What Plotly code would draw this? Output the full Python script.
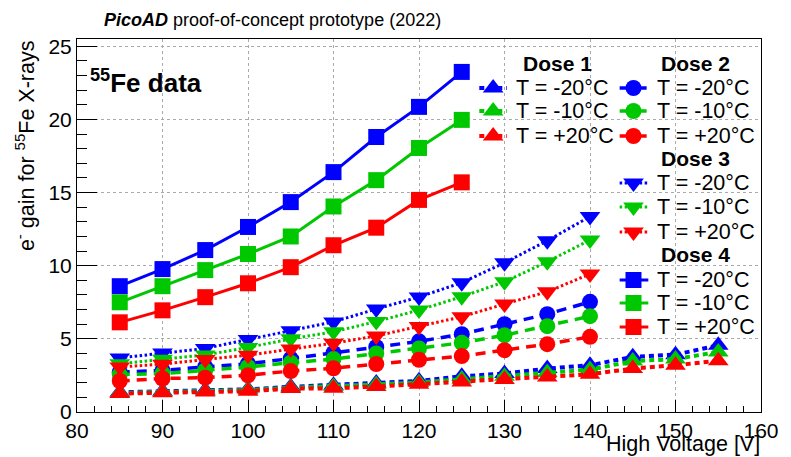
import plotly.graph_objects as go

# ---------------- data ----------------
hv_dose1 = [85, 90, 95, 100, 105, 110, 115, 120, 125, 130, 135, 140, 145, 150, 155]
hv_dose23 = [85, 90, 95, 100, 105, 110, 115, 120, 125, 130, 135, 140]
hv_dose4 = [85, 90, 95, 100, 105, 110, 115, 120, 125]

dose1_m20 = [1.35, 1.42, 1.48, 1.55, 1.72, 1.83, 1.99, 2.13, 2.44, 2.63, 2.97, 3.2, 3.77, 3.92, 4.56]
dose1_m10 = [1.3, 1.37, 1.42, 1.5, 1.66, 1.75, 1.88, 2.02, 2.25, 2.45, 2.7, 2.9, 3.48, 3.62, 4.11]
dose1_p20 = [1.26, 1.31, 1.36, 1.42, 1.6, 1.62, 1.74, 1.9, 2.05, 2.22, 2.4, 2.58, 2.97, 3.2, 3.5]

dose2_m20 = [2.72, 2.85, 3.08, 3.3, 3.65, 4.04, 4.45, 4.83, 5.32, 6.0, 6.69, 7.53]
dose2_m10 = [2.56, 2.63, 2.85, 3.08, 3.37, 3.62, 4.0, 4.34, 4.73, 5.25, 5.87, 6.55]
dose2_p20 = [2.12, 2.29, 2.35, 2.51, 2.8, 2.99, 3.28, 3.57, 3.82, 4.23, 4.64, 5.14]

dose3_m20 = [3.7, 4.04, 4.34, 4.96, 5.55, 6.16, 7.04, 7.86, 8.84, 10.2, 11.71, 13.36]
dose3_m10 = [3.3, 3.6, 3.9, 4.41, 5.0, 5.48, 6.18, 6.97, 7.88, 8.9, 10.27, 11.76]
dose3_p20 = [3.08, 3.27, 3.59, 3.88, 4.3, 4.7, 5.2, 5.85, 6.51, 7.38, 8.22, 9.43]

dose4_m20 = [8.6, 9.77, 11.07, 12.65, 14.35, 16.4, 18.8, 20.86, 23.25]
dose4_m10 = [7.5, 8.6, 9.7, 10.8, 12.0, 14.05, 15.85, 18.05, 19.97]
dose4_p20 = [6.13, 6.95, 7.85, 8.8, 9.9, 11.4, 12.6, 14.5, 15.7]

temp_labels = ["T = -20°C", "T = -10°C", "T = +20°C"]
dose_labels = ["Dose 1", "Dose 2", "Dose 3", "Dose 4"]

# ---------------- styles ----------------
FONT = "Liberation Sans"
colors = ["#0000ff", "#00c800", "#ff0000"]
W, H = 791, 457            # window size
OFF = 8                    # default page body margin
L, R, T, B = 77, 22, 39, 45  # plot frame margins within the window
PW, PH = W - L - R, H - T - B

dose_styles = {
    "Dose 1": dict(symbol="triangle-up", size=18, dash="5px,4px", width=4),
    "Dose 2": dict(symbol="circle", size=16, dash="10px,7px", width=3.5),
    "Dose 3": dict(symbol="triangle-down", size=18, dash="2.5px,2.5px", width=3),
    "Dose 4": dict(symbol="square", size=16, dash="solid", width=3),
}

series = [
    ("Dose 1", hv_dose1, [dose1_m20, dose1_m10, dose1_p20]),
    ("Dose 2", hv_dose23, [dose2_m20, dose2_m10, dose2_p20]),
    ("Dose 3", hv_dose23, [dose3_m20, dose3_m10, dose3_p20]),
    ("Dose 4", hv_dose4, [dose4_m20, dose4_m10, dose4_p20]),
]

fig = go.Figure()

for dose, xs, ylist in series:
    st = dose_styles[dose]
    for col, ys in zip(colors, ylist):
        fig.add_trace(go.Scatter(
            x=xs, y=ys, mode="lines+markers", showlegend=False,
            line=dict(color=col, width=st["width"], dash=st["dash"]),
            marker=dict(symbol=st["symbol"], size=st["size"], color=col,
                        line=dict(width=0)),
        ))

# ---------------- custom legend (pixel coordinates on overlay axes) ----------------
legend_cols = {
    "Dose 1": dict(x0=484, x1=512, xm=498, xt=519, yh=63, rows=[88, 111, 136], xh=563),
    "Dose 2": dict(x0=626, x1=655, xm=640, xt=662, yh=63, rows=[88, 111, 136], xh=703),
    "Dose 3": dict(x0=626, x1=655, xm=640, xt=662, yh=158, rows=[183, 207, 232], xh=703),
    "Dose 4": dict(x0=626, x1=655, xm=640, xt=662, yh=255, rows=[280, 303, 327], xh=703),
}

annotations = []

def pxx(p):
    return (p - L) / PW

def pxy(p):
    return (H - B - p) / PH

for dose in dose_labels:
    lc = legend_cols[dose]
    st = dose_styles[dose]
    annotations.append(dict(
        text="<b>" + dose + "</b>", x=pxx(lc["xh"]), y=pxy(lc["yh"]),
        xref="paper", yref="paper", xanchor="center", yanchor="middle",
        showarrow=False, font=dict(family=FONT, size=21, color="black")))
    for col, row, lab in zip(colors, lc["rows"], temp_labels):
        fig.add_trace(go.Scatter(
            x=[lc["x0"], lc["x1"]], y=[row, row], mode="lines",
            xaxis="x2", yaxis="y2", showlegend=False, cliponaxis=False,
            line=dict(color=col, width=st["width"], dash=st["dash"]),
            hoverinfo="skip"))
        fig.add_trace(go.Scatter(
            x=[lc["xm"]], y=[row], mode="markers",
            xaxis="x2", yaxis="y2", showlegend=False, cliponaxis=False,
            marker=dict(symbol=st["symbol"], size=st["size"], color=col,
                        line=dict(width=0)),
            hoverinfo="skip"))
        annotations.append(dict(
            text=lab, x=pxx(lc["xt"]), y=pxy(row),
            xref="paper", yref="paper", xanchor="left", yanchor="middle",
            showarrow=False, font=dict(family=FONT, size=21.5, color="black")))

# title
annotations.append(dict(
    text="<b><i>PicoAD</i></b> proof-of-concept prototype (2022)",
    x=pxx(102), y=pxy(20), xref="paper", yref="paper",
    xanchor="left", yanchor="middle", showarrow=False,
    font=dict(family=FONT, size=18, color="black")))
# 55Fe data label
annotations.append(dict(
    text="<b><sup>55</sup>Fe data</b>",
    x=pxx(88), y=pxy(82), xref="paper", yref="paper",
    xanchor="left", yanchor="middle", showarrow=False,
    font=dict(family=FONT, size=26, color="black")))
# y title
annotations.append(dict(
    text="e<sup>-</sup> gain for <sup>55</sup>Fe X-rays",
    x=pxx(24), y=pxy(38), xref="paper", yref="paper", textangle=-90,
    xanchor="center", yanchor="top", showarrow=False,
    font=dict(family=FONT, size=21.5, color="black")))
# x title
annotations.append(dict(
    text="High Voltage [V]",
    x=pxx(770), y=pxy(444), xref="paper", yref="paper",
    xanchor="right", yanchor="middle", showarrow=False,
    font=dict(family=FONT, size=21.5, color="black")))

fig.update_layout(
    width=W - OFF, height=H - OFF,
    margin=dict(l=L - OFF, r=R, t=T - OFF, b=B, pad=0),
    paper_bgcolor="white", plot_bgcolor="white",
    font=dict(family=FONT, size=21, color="black"),
    annotations=annotations,
    xaxis=dict(
        range=[80, 160], dtick=10, tick0=80,
        ticks="inside", ticklen=12, tickwidth=1, tickcolor="black",
        showline=True, linecolor="black", linewidth=1, mirror=True,
        showgrid=True, gridcolor="#aaaaaa", griddash="dot", gridwidth=1,
        zeroline=False,
        tickfont=dict(family=FONT, size=21, color="black"),
        minor=dict(dtick=2, ticks="inside", ticklen=6, tickcolor="black", showgrid=False),
    ),
    yaxis=dict(
        range=[0, 25.5], dtick=5, tick0=0,
        ticks="inside", ticklen=20, tickwidth=1, tickcolor="black",
        showline=True, linecolor="black", linewidth=1, mirror=True,
        showgrid=True, gridcolor="#aaaaaa", griddash="dot", gridwidth=1,
        zeroline=False,
        tickfont=dict(family=FONT, size=21, color="black"),
        minor=dict(dtick=1, ticks="inside", ticklen=10, tickcolor="black", showgrid=False),
    ),
    xaxis2=dict(overlaying="x", range=[L, W - R], visible=False),
    yaxis2=dict(overlaying="y", range=[H - B, T], visible=False),
)

fig.write_html("out.html", config={"displayModeBar": False})
